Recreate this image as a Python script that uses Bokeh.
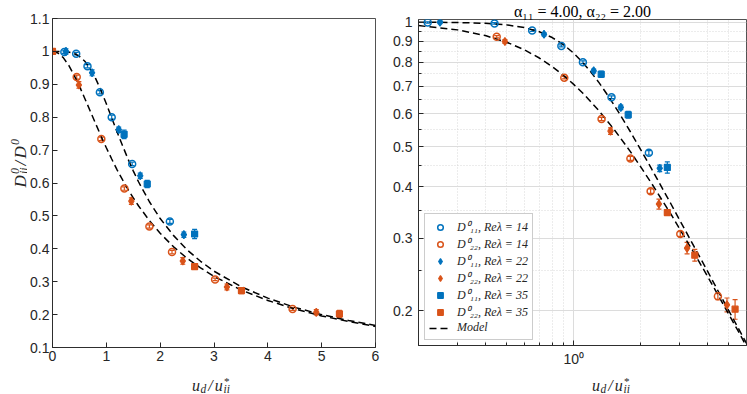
import math
from bokeh.plotting import figure
from bokeh.models import (Range1d, FixedTicker, Label, Legend, LegendItem, Whisker,
                          TeeHead, ColumnDataSource, CustomJSTickFormatter)
from bokeh.layouts import row, column
from bokeh.embed import file_html
from bokeh.resources import INLINE

BLUE = "#0072BD"
ORANGE = "#D95319"
AX = "#262626"

# ---------------- data ----------------
d11_re14_x = [0.22, 0.44, 0.65, 0.88, 1.10, 1.48, 2.18]
d11_re14_y = [0.998, 0.993, 0.955, 0.876, 0.800, 0.658, 0.483]
d11_re14_e = [0.004, 0.004, 0.005, 0.005, 0.006, 0.005, 0.006]

d22_re14_x = [0.45, 0.907, 1.335, 1.80, 2.22, 3.02, 4.46]
d22_re14_y = [0.922, 0.734, 0.583, 0.468, 0.390, 0.307, 0.217]
d22_re14_e = [0.006, 0.005, 0.005, 0.005, 0.005, 0.004, 0.004]

d11_re22_x = [0.25, 0.735, 1.23, 1.63, 2.44]
d11_re22_y = [1.000, 0.935, 0.762, 0.622, 0.443]
d11_re22_e = [0.008, 0.009, 0.008, 0.008, 0.008]

d22_re22_x = [0.49, 1.465, 2.42, 3.24, 4.90]
d22_re22_y = [0.898, 0.545, 0.363, 0.284, 0.207]
d22_re22_e = [0.010, 0.010, 0.010, 0.009, 0.008]

d11_re35_x = [1.33, 1.76, 2.64]
d11_re35_y = [0.748, 0.597, 0.445]
d11_re35_e = [0.013, 0.011, 0.014]

d22_re35_x = [0.0, 2.64, 3.51, 5.33]
d22_re35_y = [1.000, 0.346, 0.273, 0.202]
d22_re35_e = [0.005, 0.005, 0.009, 0.011]

model_x = [0.0, 0.1, 0.2, 0.3, 0.4, 0.5, 0.6, 0.7, 0.8, 0.9, 1.0, 1.1, 1.2, 1.3, 1.4,
           1.5, 1.6, 1.8, 2.0, 2.25, 2.5, 2.75, 3.0, 3.5, 4.0, 4.5, 5.0, 5.5, 6.0]
model_11 = [1.000, 1.000, 1.000, 0.998, 0.994, 0.985, 0.970, 0.948, 0.918, 0.882, 0.841,
            0.798, 0.755, 0.714, 0.674, 0.637, 0.603, 0.543, 0.492, 0.440, 0.397, 0.362,
            0.332, 0.285, 0.250, 0.222, 0.200, 0.182, 0.167]
model_22 = [1.000, 0.995, 0.981, 0.958, 0.928, 0.894, 0.857, 0.819, 0.781, 0.743, 0.707,
            0.673, 0.640, 0.610, 0.581, 0.555, 0.530, 0.486, 0.447, 0.406, 0.371, 0.342,
            0.316, 0.275, 0.243, 0.217, 0.196, 0.179, 0.164]

left_xticks = [0, 1, 2, 3, 4, 5, 6]
left_yticks = [0.1, 0.2, 0.3, 0.4, 0.5, 0.6, 0.7, 0.8, 0.9, 1.0, 1.1]
right_xticks = [1.0]
right_xminor = [0.2, 0.3, 0.4, 0.5, 0.6, 0.7, 0.8, 0.9, 2.0, 3.0, 4.0, 5.0, 6.0]
right_yticks = [0.2, 0.3, 0.4, 0.5, 0.6, 0.7, 0.8, 0.9, 1.0]
right_yminor = [0.25, 0.35, 0.45, 0.55, 0.65, 0.75, 0.85, 0.95]

title_text = "α₁₁ = 4.00, α₂₂ = 2.00"

series = [
    ("D⁰₁₁, Reλ = 14", d11_re14_x, d11_re14_y, d11_re14_e, BLUE, "circle"),
    ("D⁰₂₂, Reλ = 14", d22_re14_x, d22_re14_y, d22_re14_e, ORANGE, "circle"),
    ("D⁰₁₁, Reλ = 22", d11_re22_x, d11_re22_y, d11_re22_e, BLUE, "diamond"),
    ("D⁰₂₂, Reλ = 22", d22_re22_x, d22_re22_y, d22_re22_e, ORANGE, "diamond"),
    ("D⁰₁₁, Reλ = 35", d11_re35_x, d11_re35_y, d11_re35_e, BLUE, "square"),
    ("D⁰₂₂, Reλ = 35", d22_re35_x, d22_re35_y, d22_re35_e, ORANGE, "square"),
]

MATH_FONT = "Liberation Serif"


def blank_fig(w, h):
    f = figure(width=w, height=h, x_range=Range1d(0, 1), y_range=Range1d(0, 1),
               x_axis_location=None, y_axis_location=None, min_border=0,
               output_backend="svg", toolbar_location=None)
    f.outline_line_color = None
    f.grid.visible = False
    f.background_fill_color = "white"
    f.border_fill_color = "white"
    return f


def style_axes(p):
    for ax in p.xaxis + p.yaxis:
        ax.axis_line_color = AX
        ax.axis_line_width = 0.8
        ax.major_tick_line_color = AX
        ax.minor_tick_line_color = AX
        ax.major_tick_in = 5
        ax.major_tick_out = 0
        ax.minor_tick_in = 3
        ax.minor_tick_out = 0
        ax.major_label_text_font = "Liberation Sans"
        ax.major_label_text_font_size = "14px"
        ax.major_label_text_color = AX
    p.outline_line_color = AX
    p.outline_line_width = 0.8
    p.outline_line_alpha = 1.0
    p.background_fill_color = "white"
    p.border_fill_color = "white"


def draw_series(p, log_x=False):
    rends = []
    for label, xs, ys, es, col, mk in series:
        pts = [(x, y, e) for x, y, e in zip(xs, ys, es) if (x > 0 or not log_x)]
        src = ColumnDataSource(dict(x=[a[0] for a in pts], y=[a[1] for a in pts],
                                    lo=[a[1] - a[2] for a in pts], hi=[a[1] + a[2] for a in pts]))
        w = Whisker(source=src, base="x", upper="hi", lower="lo", line_color=col, line_width=1.2,
                    upper_head=TeeHead(size=5, line_color=col, line_width=1.2),
                    lower_head=TeeHead(size=5, line_color=col, line_width=1.2))
        p.add_layout(w)
        if mk == "circle":
            r = p.scatter("x", "y", source=src, marker="circle", size=7, line_color=col,
                          line_width=1.5, fill_color=None)
        elif mk == "diamond":
            r = p.scatter("x", "y", source=src, marker="diamond", size=8, line_color=col,
                          line_width=1.2, fill_color=col)
        else:
            r = p.scatter("x", "y", source=src, marker="square", size=6, line_color=col,
                          line_width=1.2, fill_color=col)
        rends.append((label, r))
    return rends


def add_piece(f, t, x, y, fs, angle=0.0):
    f.add_layout(Label(x=x, y=y, x_units="screen", y_units="screen", angle=angle,
                       text=t, text_font=MATH_FONT, text_font_style="italic",
                       text_font_size=f"{fs}px", text_align="left",
                       text_baseline="alphabetic", text_color=AX))


def xlabel_fig(w, h, xc, ybase):
    f = blank_fig(w, h)
    pieces = [("u", -20.5, 0, 16), ("d", -12.0, -3.5, 11.5), ("/", -4.3, 0, 16),
              ("u", 2.3, 0, 16), ("*", 11.0, 4.5, 11), ("ii", 11.0, -3.5, 11.5)]
    for t, dx, dy, fs in pieces:
        add_piece(f, t, xc + dx, ybase + dy, fs)
    return f


fmt_y = CustomJSTickFormatter(code="return Math.abs(tick - 1) < 1e-6 ? '1' : tick.toFixed(1);")

# ---------------- left panel ----------------
YL_W = 27
P1_W = 361            # page x 27 .. 388
P1_H = 366            # page y 0 .. 366
p1 = figure(width=P1_W, height=P1_H, x_range=Range1d(0, 6), y_range=Range1d(0.1, 1.1),
            output_backend="svg", toolbar_location=None,
            min_border_left=22, min_border_right=13, min_border_top=18, min_border_bottom=19)
p1.xgrid.visible = False
p1.ygrid.visible = False
p1.xaxis.ticker = FixedTicker(ticks=left_xticks)
p1.yaxis.ticker = FixedTicker(ticks=left_yticks)
p1.yaxis.formatter = fmt_y
style_axes(p1)
p1.xaxis.major_label_standoff = 3
p1.yaxis.major_label_standoff = 3

p1.line(model_x, model_11, line_color="black", line_width=1.5, line_dash="7 4")
p1.line(model_x, model_22, line_color="black", line_width=1.5, line_dash="7 4")
draw_series(p1)

# rotated y label  D^0_ii / D^0
ylab = blank_fig(YL_W, P1_H)
A = math.pi / 2
add_piece(ylab, "D", 20, 160, 17, A)
add_piece(ylab, "0", 14, 173.5, 12, A)
add_piece(ylab, "ii", 23, 173.5, 12, A)
add_piece(ylab, "/", 20, 182, 17, A)
add_piece(ylab, "D", 20, 189, 17, A)
add_piece(ylab, "0", 14, 202.5, 12, A)

# x label for left panel (frame centre at page x ~212)
xl1 = xlabel_fig(YL_W + P1_W, 394 - P1_H, 212, 9)

# ---------------- right panel ----------------
W2 = 359              # page x 388 .. 747
P2_H = 369            # page y 0 .. 369
p2 = figure(width=W2, height=P2_H, x_axis_type="log", y_axis_type="log",
            x_range=Range1d(0.2, 6), y_range=Range1d(0.165, 1.015),
            output_backend="svg", toolbar_location=None,
            min_border_left=30, min_border_right=1, min_border_top=18, min_border_bottom=22)
p2.title.text = title_text
p2.title.align = "center"
p2.title.text_font = MATH_FONT
p2.title.text_font_size = "16px"
p2.title.text_font_style = "normal"
p2.title.text_color = "black"
p2.title.standoff = 0
p2.title.offset = 0
p2.xaxis.ticker = FixedTicker(ticks=right_xticks, minor_ticks=right_xminor)
p2.yaxis.ticker = FixedTicker(ticks=right_yticks, minor_ticks=right_yminor)
p2.xaxis.formatter = CustomJSTickFormatter(code="return '10\u2070';")
p2.yaxis.formatter = fmt_y
style_axes(p2)
p2.xaxis.major_label_standoff = 5
p2.yaxis.major_label_standoff = 6
for g in (p2.xgrid, p2.ygrid):
    g.grid_line_color = "#dcdcdc"
    g.grid_line_width = 1
    g.minor_grid_line_color = "#cfcfcf"
    g.minor_grid_line_dash = "1 2"
    g.minor_grid_line_width = 0.8

mx = [x for x in model_x if x >= 0.2]
m11 = [y for x, y in zip(model_x, model_11) if x >= 0.2]
m22 = [y for x, y in zip(model_x, model_22) if x >= 0.2]
lm = p2.line(mx, m11, line_color="black", line_width=1.5, line_dash="7 4")
p2.line(mx, m22, line_color="black", line_width=1.5, line_dash="7 4")
rends = draw_series(p2, log_x=True)

items = [LegendItem(label=lab, renderers=[r]) for lab, r in rends]
items.append(LegendItem(label="Model", renderers=[lm]))
leg = Legend(items=items, location=(6, 5), padding=4, margin=0, spacing=0,
             glyph_width=22, glyph_height=14, label_height=14, label_standoff=6,
             label_text_font=MATH_FONT, label_text_font_size="12px",
             label_text_font_style="italic", label_text_color=AX,
             border_line_color="#9a9a9a", border_line_width=1,
             background_fill_color="white", background_fill_alpha=1.0)
p2.add_layout(leg, "center")

xl2 = xlabel_fig(W2, 394 - P2_H, 194, 9)

layout = row(column(row(ylab, p1), xl1), column(p2, xl2))
open("out.html", "w").write(file_html(layout, INLINE))
